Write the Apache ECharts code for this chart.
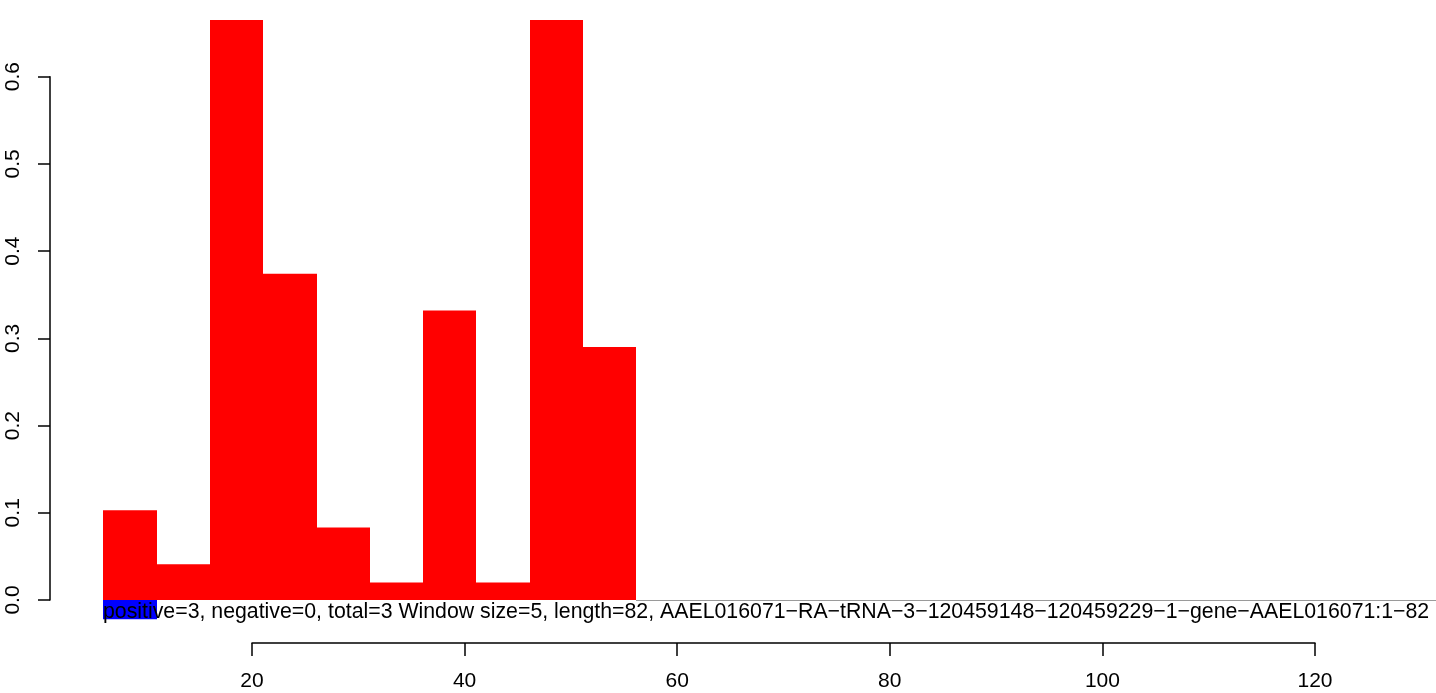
<!DOCTYPE html>
<html>
<head>
<meta charset="utf-8">
<script src="https://cdn.jsdelivr.net/npm/echarts@6/dist/echarts.min.js"></script>
<style>
html,body{margin:0;padding:0;background:#fff;}
#chart{width:1436px;height:693px;}
</style>
</head>
<body>
<div id="chart"></div>
<script>
// ---- data ----
const windowSize = 5;
const windowStarts = [6, 11, 16, 21, 26, 31, 36, 41, 46, 51, 56, 61, 66, 71, 76, 81, 86, 91, 96, 101, 106, 111, 116, 121, 126];
const positiveValues = [0.103, 0.041, 0.665, 0.374, 0.083, 0.020, 0.332, 0.020, 0.665, 0.290, 0, 0, 0, 0, 0, 0, 0, 0, 0, 0, 0, 0, 0, 0, 0];
const negativeValues = [-0.022, 0, 0, 0, 0, 0, 0, 0, 0, 0, 0, 0, 0, 0, 0, 0, 0, 0, 0, 0, 0, 0, 0, 0, 0];
const yTicks = [0, 0.1, 0.2, 0.3, 0.4, 0.5, 0.6];
const xTicks = [20, 40, 60, 80, 100, 120];
const caption = 'positive=3, negative=0, total=3 Window size=5, length=82, AAEL016071\u2212RA\u2212tRNA\u22123\u2212120459148\u2212120459229\u22121\u2212gene\u2212AAEL016071:1\u221282';

const FONT = '"Liberation Sans", Arial, Helvetica, sans-serif';

function makeRender(color, drawZero) {
  return function (params, api) {
    const start = api.value(0);
    const val = api.value(1);
    const p0 = api.coord([start, 0]);
    const p1 = api.coord([start + windowSize, val]);
    const x0 = Math.round(p0[0]);
    const x1 = Math.round(p1[0]);
    if (val === 0) {
      if (!drawZero) return null;
      return {
        type: 'line',
        shape: { x1: x0, y1: Math.round(p0[1]) + 0.5, x2: x1, y2: Math.round(p0[1]) + 0.5 },
        style: { stroke: '#9a9a9a', lineWidth: 1 }
      };
    }
    const y = Math.min(p0[1], p1[1]);
    return {
      type: 'rect',
      shape: { x: x0, y: y, width: x1 - x0, height: Math.abs(p1[1] - p0[1]) },
      style: { fill: color }
    };
  };
}

const chart = echarts.init(document.getElementById('chart'), null, { renderer: 'canvas' });
chart.setOption({
  animation: false,
  backgroundColor: '#fff',
  grid: [
    { left: 50, right: 0, top: 76.7, height: 523.3 },
    { left: 252, width: 1063, top: 643, height: 0 }
  ],
  xAxis: [
    { type: 'value', gridIndex: 0, min: 1, max: 131, show: false },
    {
      type: 'value', gridIndex: 1, min: xTicks[0], max: xTicks[xTicks.length - 1], interval: 20,
      position: 'bottom',
      axisLine: { show: true, onZero: false, lineStyle: { color: '#000', width: 1.5 } },
      axisTick: { show: true, length: 13, lineStyle: { color: '#000', width: 1.5 } },
      splitLine: { show: false },
      axisLabel: { color: '#000', fontFamily: FONT, fontSize: 21, margin: 28 }
    }
  ],
  yAxis: [
    {
      type: 'value', gridIndex: 0, min: yTicks[0], max: yTicks[yTicks.length - 1], interval: 0.1,
      axisLine: { show: true, lineStyle: { color: '#000', width: 1.5 } },
      axisTick: { show: true, length: 12, lineStyle: { color: '#000', width: 1.5 } },
      splitLine: { show: false },
      axisLabel: {
        color: '#000', fontFamily: FONT, fontSize: 21, rotate: 90, margin: 26,
        formatter: function (v) { return v.toFixed(1); }
      }
    },
    { type: 'value', gridIndex: 1, show: false, min: 0, max: 1 }
  ],
  series: [
    {
      type: 'custom', name: 'negative', xAxisIndex: 0, yAxisIndex: 0,
      renderItem: makeRender('#0000ff', false),
      data: windowStarts.map((s, i) => [s, negativeValues[i]]),
      clip: false, silent: true, z: 1
    },
    {
      type: 'custom', name: 'positive', xAxisIndex: 0, yAxisIndex: 0,
      renderItem: makeRender('#ff0000', true),
      data: windowStarts.map((s, i) => [s, positiveValues[i]]),
      clip: false, silent: true, z: 2
    }
  ],
  graphic: [
    {
      type: 'text', left: 103, top: 602, z: 10,
      style: { text: caption, fill: '#000', font: '21.3px ' + FONT }
    }
  ]
});
</script>
</body>
</html>
